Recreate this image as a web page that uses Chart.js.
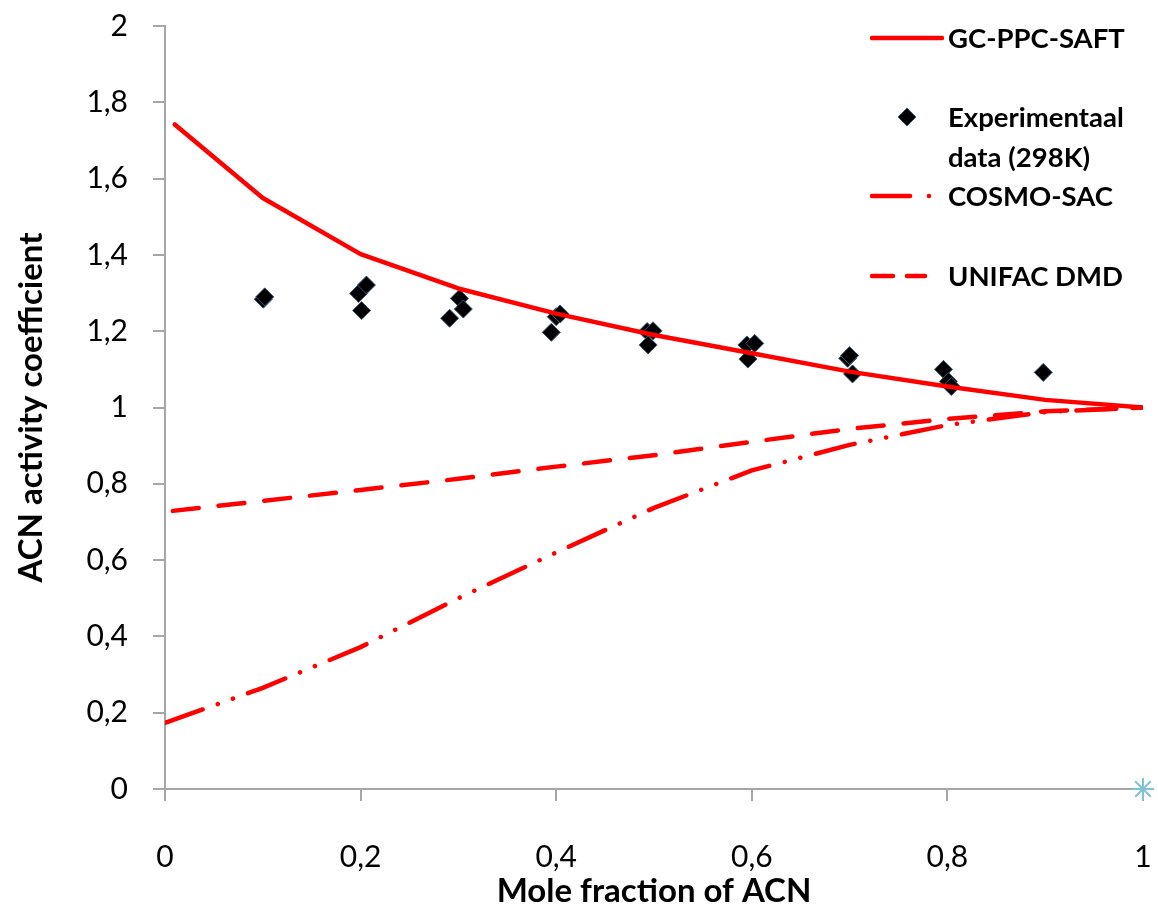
<!DOCTYPE html>
<html>
<head>
<meta charset="utf-8">
<script src="https://cdn.jsdelivr.net/npm/chart.js@4/dist/chart.umd.min.js"></script>
<style>
  html, body { margin: 0; padding: 0; background: #fff; }
  #wrap { position: relative; width: 1158px; height: 917px; }
  .leg { position: absolute; font-family: Lato, sans-serif; font-weight: bold; font-size: 27.5px; color: #000; line-height: 40px; }
  .leg svg { position: absolute; }
</style>
</head>
<body>
<div id="wrap">
  <canvas id="chart"></canvas>
  <div class="leg" style="left:870px; top:18px; width:288px; height:40px;">
    <svg width="74" height="40" style="left:0;top:0"><line x1="2" y1="20" x2="72" y2="20" stroke="#ff0000" stroke-width="4.5" stroke-linecap="round"/></svg>
    <span style="position:absolute; left:78px; top:0; white-space:nowrap;">GC-PPC-SAFT</span>
  </div>
  <div class="leg" style="left:870px; top:97px; width:288px; height:80px;">
    <svg width="74" height="40" style="left:0;top:0"><polygon points="37,11 46,20 37,29 28,20" fill="#000" stroke="#3b5574" stroke-width="1"/></svg>
    <span style="position:absolute; left:78px; top:0; white-space:nowrap;">Experimentaal</span>
    <span style="position:absolute; left:78px; top:40px; white-space:nowrap;">data (298K)</span>
  </div>
  <div class="leg" style="left:870px; top:176px; width:288px; height:40px;">
    <svg width="74" height="40" style="left:0;top:0"><line x1="2" y1="20" x2="40" y2="20" stroke="#ff0000" stroke-width="4.5" stroke-linecap="round"/><circle cx="59" cy="20" r="2.3" fill="#ff0000"/></svg>
    <span style="position:absolute; left:78px; top:0; white-space:nowrap;">COSMO-SAC</span>
  </div>
  <div class="leg" style="left:870px; top:256px; width:288px; height:40px;">
    <svg width="74" height="40" style="left:0;top:0"><line x1="2" y1="20" x2="23" y2="20" stroke="#ff0000" stroke-width="4.5" stroke-linecap="round"/><line x1="37" y1="20" x2="55" y2="20" stroke="#ff0000" stroke-width="4.5" stroke-linecap="round"/></svg>
    <span style="position:absolute; left:78px; top:0; white-space:nowrap;">UNIFAC DMD</span>
  </div>
</div>
<script>
// model curves (mole fraction of ACN)
const gcX = [0.01, 0.1, 0.2, 0.3, 0.4, 0.5, 0.6, 0.7, 0.8, 0.9, 1.0];
const gcY = [1.742, 1.549, 1.402, 1.312, 1.246, 1.19, 1.142, 1.094, 1.055, 1.02, 1.0];

const cosmoX = [0, 0.1, 0.2, 0.3, 0.4, 0.5, 0.6, 0.7, 0.8, 0.9, 1.0];
const cosmoY = [0.173, 0.265, 0.372, 0.5, 0.62, 0.737, 0.835, 0.902, 0.954, 0.988, 1.0];

const unifacX = [0.008, 0.1, 0.2, 0.3, 0.4, 0.5, 0.6, 0.7, 0.8, 0.9, 1.0];
const unifacY = [0.729, 0.755, 0.784, 0.813, 0.845, 0.875, 0.91, 0.944, 0.97, 0.99, 1.0];

// experimental data (298K)
const expX = [0.1005, 0.102, 0.198, 0.201, 0.206, 0.291, 0.301, 0.305, 0.395, 0.4, 0.404, 0.493, 0.494, 0.499,
  0.595, 0.596, 0.603, 0.698, 0.7, 0.703, 0.796, 0.801, 0.804, 0.898];
const expY = [1.284, 1.29, 1.299, 1.254, 1.321, 1.234, 1.286, 1.258, 1.197, 1.238, 1.245, 1.199, 1.164, 1.201,
  1.164, 1.127, 1.168, 1.129, 1.136, 1.088, 1.1, 1.068, 1.055, 1.092];

const markerX = [1];
const markerY = [0];

const toPoints = (xs, ys) => xs.map((x, i) => ({ x: x, y: ys[i] }));
const fmt = (v) => String(Math.round(v * 10) / 10).replace('.', ',');

const axisGray = '#a6a6a6';
const tickFont = { family: 'Lato', size: 30 };
const titleFont = { family: 'Lato', size: 33, weight: 'bold' };

const ctx = document.getElementById('chart').getContext('2d');

new Chart(ctx, {
  type: 'scatter',
  data: {
    datasets: [
      {
        label: 'GC-PPC-SAFT',
        data: toPoints(gcX, gcY),
        showLine: true,
        borderColor: '#ff0000',
        borderWidth: 4.5,
        pointRadius: 0,
        tension: 0,
        borderCapStyle: 'round',
        borderJoinStyle: 'round'
      },
      {
        label: 'COSMO-SAC',
        data: toPoints(cosmoX, cosmoY),
        showLine: true,
        borderColor: '#ff0000',
        borderWidth: 4.5,
        borderDash: [40, 16, 0.1, 16, 0.1, 16],
        borderCapStyle: 'round',
        pointRadius: 0,
        tension: 0
      },
      {
        label: 'UNIFAC DMD',
        data: toPoints(unifacX, unifacY),
        showLine: true,
        borderColor: '#ff0000',
        borderWidth: 4.5,
        borderDash: [26, 20],
        borderCapStyle: 'round',
        pointRadius: 0,
        tension: 0
      },
      {
        label: 'Experimentaal data (298K)',
        data: toPoints(expX, expY),
        pointStyle: 'rectRot',
        pointRadius: 9,
        pointBackgroundColor: '#000',
        pointBorderColor: '#3b5574',
        pointBorderWidth: 1
      },
      {
        label: '',
        data: toPoints(markerX, markerY),
        pointStyle: 'star',
        pointRadius: 11,
        pointBorderColor: '#7ec3d6',
        pointBorderWidth: 2,
        clip: false
      }
    ]
  },
  options: {
    responsive: true,
    maintainAspectRatio: false,
    animation: false,
    layout: { padding: { top: 26, right: 15, left: 0, bottom: 0 } },
    plugins: { legend: { display: false }, tooltip: { enabled: false } },
    scales: {
      x: {
        type: 'linear',
        min: 0,
        max: 1,
        afterFit: (scale) => {
          scale.height = 128;
          scale.paddingLeft = 0;
          scale.paddingRight = 0;
        },
        ticks: { stepSize: 0.2, padding: 38, color: '#000', font: tickFont, callback: fmt },
        grid: { drawOnChartArea: false, drawTicks: true, tickLength: 12, color: axisGray, lineWidth: 2 },
        border: { color: axisGray, width: 2 },
        title: { display: true, text: 'Mole fraction of ACN', color: '#000', font: titleFont, padding: { top: 0, bottom: 6 } }
      },
      y: {
        type: 'linear',
        min: 0,
        max: 2,
        afterFit: (scale) => {
          scale.width = 165;
          scale.paddingTop = 0;
          scale.paddingBottom = 0;
        },
        ticks: { stepSize: 0.2, padding: 25, color: '#000', font: tickFont, callback: fmt },
        grid: { drawOnChartArea: false, drawTicks: true, tickLength: 12, color: axisGray, lineWidth: 2 },
        border: { color: axisGray, width: 2 },
        title: { display: true, text: 'ACN activity coefficient', color: '#000', font: titleFont, padding: { top: 12, bottom: 0 } }
      }
    }
  }
});
</script>
</body>
</html>
